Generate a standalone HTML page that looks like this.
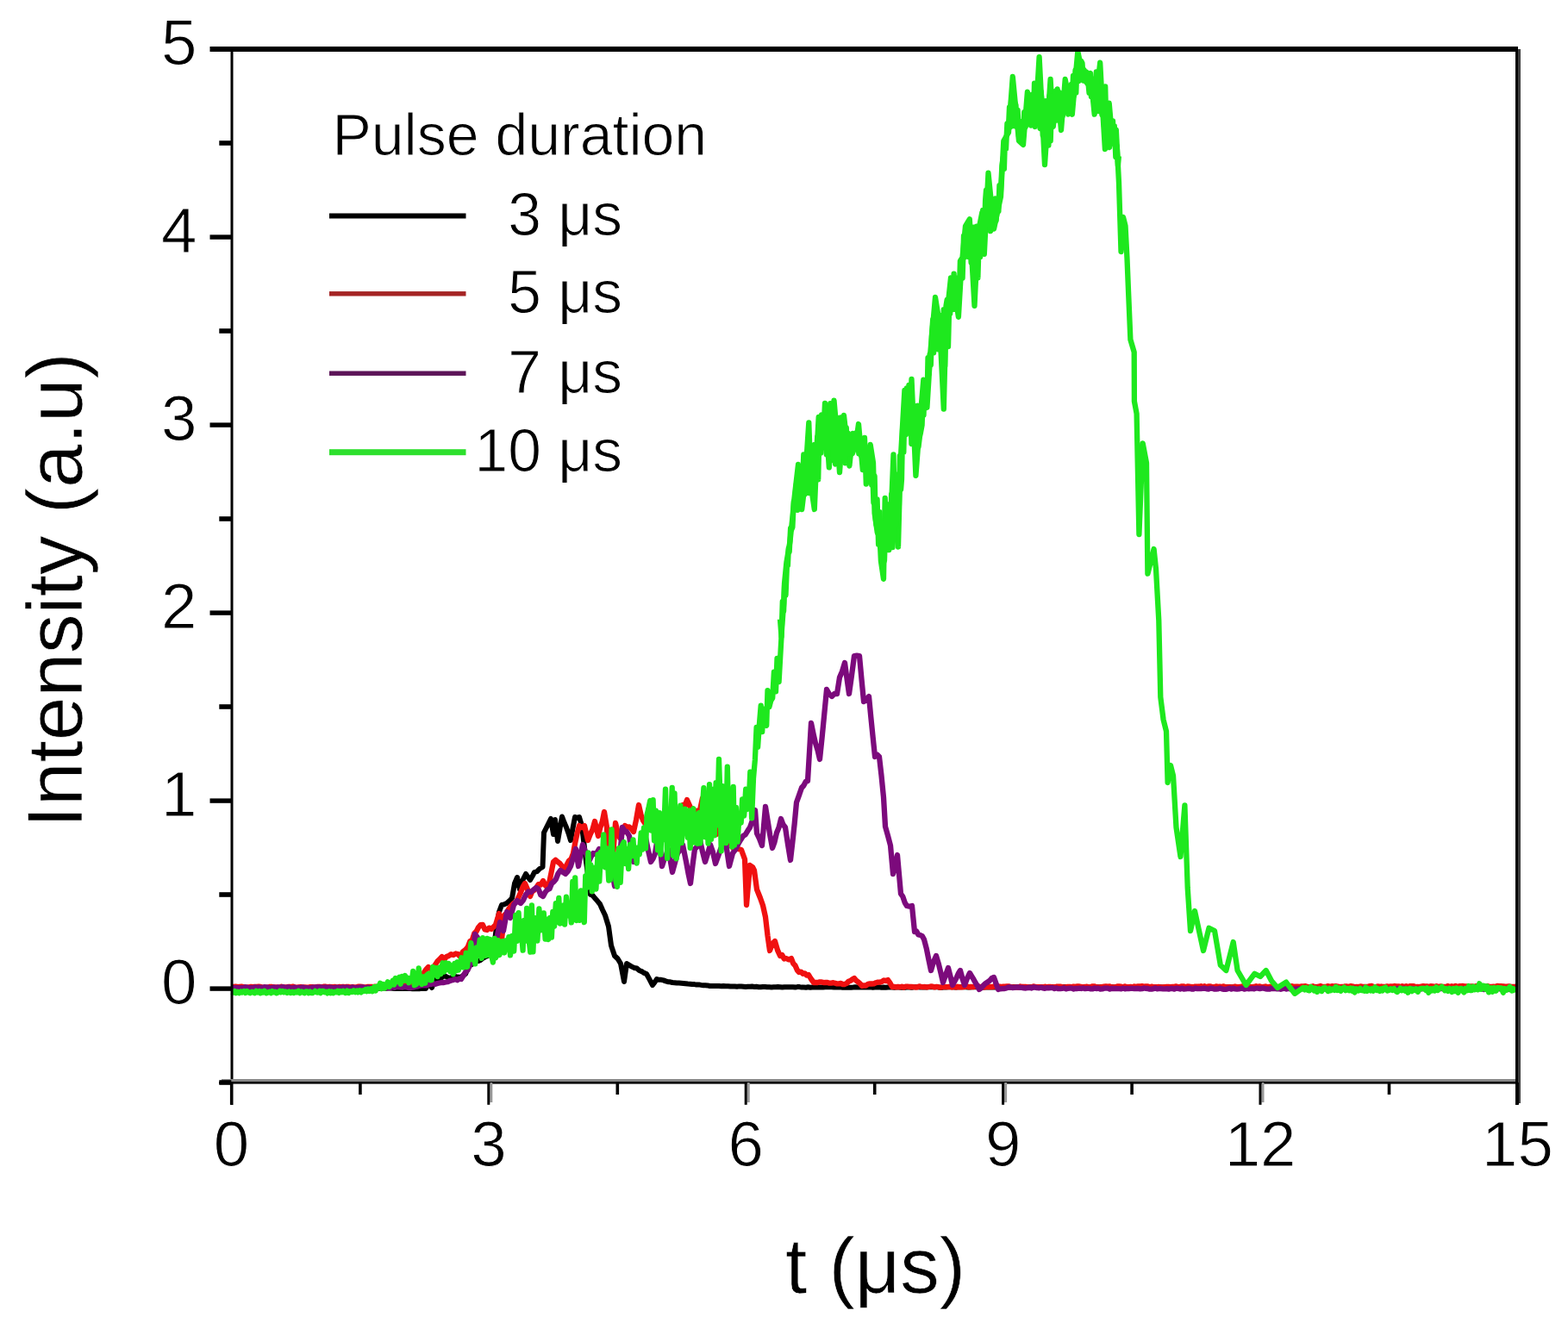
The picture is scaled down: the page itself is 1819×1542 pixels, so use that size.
<!DOCTYPE html>
<html><head><meta charset="utf-8"><title>Pulse duration</title>
<style>html,body{margin:0;padding:0;background:#fff;}svg{display:block;}.t1{stroke:#fff;stroke-width:1px;}.t2{stroke:#fff;stroke-width:0.6px;}</style>
</head><body><svg width="1819" height="1542" viewBox="0 0 1819 1542" font-family="'Liberation Sans', Arial, sans-serif" fill="#000"><polyline fill="none" stroke="#000000" stroke-width="6.0" stroke-linejoin="round" stroke-linecap="butt" points="269.0,1146.0 271.5,1145.9 274.0,1146.0 276.5,1145.9 279.1,1146.1 281.6,1146.1 284.1,1145.8 286.6,1145.8 289.1,1146.3 291.6,1145.9 294.1,1145.9 296.7,1146.4 299.2,1146.1 301.7,1146.3 304.2,1146.1 306.7,1146.2 309.2,1145.9 311.8,1146.2 314.3,1146.4 316.8,1146.2 319.3,1146.3 321.8,1146.3 324.3,1145.9 326.8,1146.3 329.4,1146.2 331.9,1146.1 334.4,1145.9 336.9,1146.4 339.4,1146.2 341.9,1146.3 344.4,1146.4 347.0,1146.4 349.5,1146.5 352.0,1146.2 354.5,1146.4 357.0,1146.2 359.5,1146.5 362.0,1146.5 364.6,1146.0 367.1,1146.1 369.6,1146.1 372.1,1146.6 374.6,1146.3 377.1,1146.4 379.6,1146.2 382.2,1146.3 384.7,1146.3 387.2,1146.3 389.7,1146.4 392.2,1146.4 394.7,1146.6 397.2,1146.5 399.8,1146.6 402.3,1146.6 404.8,1146.7 407.3,1146.5 409.8,1146.2 412.3,1146.6 414.9,1146.7 417.4,1146.7 419.9,1146.5 422.4,1146.6 424.9,1146.3 427.4,1146.7 429.9,1146.5 432.5,1146.3 435.0,1146.2 437.5,1146.7 440.0,1146.5 442.6,1146.8 445.2,1146.4 447.8,1146.8 450.4,1146.6 453.0,1146.5 455.6,1146.7 458.2,1147.0 460.8,1147.1 463.4,1146.7 466.0,1147.0 468.5,1147.1 471.1,1146.7 473.6,1147.1 476.2,1146.9 478.7,1147.2 481.3,1147.3 483.8,1147.0 486.4,1147.3 488.9,1146.9 491.5,1146.7 494.0,1147.0 497.0,1141.0 501.0,1146.0 505.0,1136.0 507.5,1136.6 510.0,1137.0 512.5,1134.0 515.0,1132.0 518.0,1133.2 521.0,1135.0 524.5,1133.9 528.0,1133.0 531.5,1133.6 535.0,1134.0 537.5,1131.6 540.0,1130.0 542.5,1124.1 545.0,1120.0 547.5,1118.9 550.0,1116.0 552.5,1114.6 555.0,1115.1 557.5,1114.0 560.0,1112.0 562.7,1110.4 565.3,1109.2 568.0,1108.0 570.5,1104.0 573.0,1100.0 576.0,1075.0 579.0,1058.0 582.0,1050.0 585.0,1049.3 588.0,1048.0 591.0,1045.2 594.0,1042.0 597.0,1025.0 600.0,1018.0 603.0,1032.0 606.0,1022.0 610.0,1014.0 612.5,1017.6 615.0,1021.0 617.5,1016.8 620.0,1012.0 623.0,1011.1 626.0,1008.0 629.5,1006.0 631.0,966.0 634.0,960.0 636.5,955.0 639.0,950.0 642.0,968.0 644.0,951.0 647.0,976.0 649.5,961.6 652.0,947.5 654.5,954.3 657.0,960.0 659.5,966.9 662.0,975.0 664.5,961.0 667.0,948.0 669.5,949.1 672.0,948.0 675.0,958.0 677.5,979.1 680.0,1000.0 682.5,1019.1 685.0,1038.0 687.5,1038.8 690.0,1042.0 693.0,1045.3 696.0,1049.0 699.0,1055.7 702.0,1062.0 706.0,1075.0 709.0,1097.0 713.0,1109.0 716.5,1112.3 720.0,1118.0 724.0,1139.0 727.0,1118.0 730.0,1119.9 733.0,1121.6 736.0,1123.0 738.8,1123.5 741.6,1126.0 744.4,1127.1 747.2,1128.9 750.0,1130.0 753.5,1136.4 757.0,1143.0 759.5,1139.6 762.0,1136.0 764.6,1136.8 767.1,1136.8 769.7,1137.4 772.3,1138.4 774.9,1139.2 777.4,1139.3 780.0,1140.0 782.6,1140.2 785.1,1140.5 787.7,1140.6 790.2,1140.8 792.8,1141.0 795.3,1141.3 797.9,1141.6 800.4,1141.7 803.0,1142.0 805.6,1142.1 808.1,1142.6 810.7,1142.4 813.2,1142.9 815.8,1143.3 818.3,1143.2 820.9,1143.4 823.4,1144.0 826.0,1144.0 828.7,1143.9 831.3,1143.9 834.0,1144.1 836.7,1144.3 839.3,1144.0 842.0,1144.2 844.7,1144.3 847.3,1144.6 850.0,1144.5 852.5,1144.5 855.0,1144.8 857.5,1144.4 860.0,1144.6 862.5,1144.8 865.0,1145.0 867.5,1144.8 870.0,1144.7 872.5,1144.6 875.0,1144.9 877.5,1144.8 880.0,1145.2 882.5,1145.2 885.0,1144.9 887.5,1145.0 890.0,1145.3 892.5,1145.3 895.0,1145.4 897.5,1145.2 900.0,1145.3 902.5,1145.1 905.0,1145.2 907.5,1145.5 910.0,1145.2 912.5,1145.2 915.0,1145.3 917.5,1145.3 920.0,1145.3 922.5,1145.6 925.0,1145.1 927.5,1145.1 930.0,1145.6 932.5,1145.6 935.0,1145.7 937.5,1145.3 940.0,1145.7 942.5,1145.6 945.0,1145.2 947.5,1145.5 950.0,1145.6 952.5,1145.5 955.0,1145.4 957.5,1145.3 960.0,1145.3 962.5,1145.3 965.0,1145.2 967.5,1145.5 970.0,1145.3 972.5,1145.6 975.0,1145.2 977.5,1145.7 980.0,1145.6 982.5,1145.7 985.0,1145.7 987.5,1145.7 990.0,1145.5 992.5,1145.2 995.0,1145.6 997.5,1145.3 1000.0,1145.5 1002.5,1145.4 1005.0,1145.6 1007.5,1145.5 1010.0,1145.4 1012.5,1145.8 1015.0,1145.6 1017.5,1145.4 1020.0,1145.3 1022.5,1145.7 1025.0,1145.5 1027.6,1145.7 1030.1,1145.4 1032.6,1145.3 1035.1,1145.5 1037.6,1145.7 1040.1,1145.3 1042.6,1145.6 1045.1,1145.7 1047.6,1145.7 1050.1,1145.7 1052.6,1145.2 1055.1,1145.5 1057.6,1145.7 1060.1,1145.2 1062.6,1145.3 1065.1,1145.3 1067.6,1145.5 1070.1,1145.4 1072.6,1145.4 1075.1,1145.6 1077.7,1145.1 1080.2,1145.2 1082.7,1145.2 1085.2,1145.2 1087.7,1145.2 1090.2,1145.7 1092.7,1145.7 1095.2,1145.2 1097.7,1145.4 1100.2,1145.3 1102.7,1145.3 1105.2,1145.3 1107.7,1145.5 1110.2,1145.5 1112.7,1145.3 1115.2,1145.2 1117.7,1145.3 1120.2,1145.2 1122.7,1145.5 1125.2,1145.5 1127.8,1145.3 1130.3,1145.2 1132.8,1145.2 1135.3,1145.3 1137.8,1145.5 1140.3,1145.6 1142.8,1145.3 1145.3,1145.6 1147.8,1145.5 1150.3,1145.4 1152.8,1145.3 1155.3,1145.4 1157.8,1145.5 1160.3,1145.3 1162.8,1145.5 1165.3,1145.4 1167.8,1145.2 1170.3,1145.4 1172.8,1145.5 1175.3,1145.1 1177.9,1145.3 1180.4,1145.3 1182.9,1145.6 1185.4,1145.6 1187.9,1145.3 1190.4,1145.6 1192.9,1145.5 1195.4,1145.2 1197.9,1145.3 1200.4,1145.1 1202.9,1145.6 1205.4,1145.5 1207.9,1145.6 1210.4,1145.5 1212.9,1145.5 1215.4,1145.5 1217.9,1145.4 1220.4,1145.1 1222.9,1145.4 1225.4,1145.1 1228.0,1145.1 1230.5,1145.5 1233.0,1145.1 1235.5,1145.1 1238.0,1145.1 1240.5,1145.6 1243.0,1145.1 1245.5,1145.1 1248.0,1145.5 1250.5,1145.1 1253.0,1145.5 1255.5,1145.4 1258.0,1145.5 1260.5,1145.6 1263.0,1145.4 1265.5,1145.5 1268.0,1145.0 1270.5,1145.5 1273.0,1145.3 1275.5,1145.4 1278.0,1145.1 1280.6,1145.5 1283.1,1145.6 1285.6,1145.0 1288.1,1145.2 1290.6,1145.3 1293.1,1145.5 1295.6,1145.2 1298.1,1145.1 1300.6,1145.2 1303.1,1145.4 1305.6,1145.5 1308.1,1145.2 1310.6,1145.2 1313.1,1145.2 1315.6,1145.2 1318.1,1145.2 1320.6,1145.0 1323.1,1145.3 1325.6,1145.6 1328.1,1145.2 1330.7,1145.4 1333.2,1145.1 1335.7,1145.4 1338.2,1145.4 1340.7,1145.4 1343.2,1145.3 1345.7,1145.3 1348.2,1145.4 1350.7,1145.5 1353.2,1145.1 1355.7,1145.0 1358.2,1145.4 1360.7,1145.5 1363.2,1145.3 1365.7,1145.2 1368.2,1145.4 1370.7,1145.1 1373.2,1145.1 1375.7,1145.1 1378.2,1145.3 1380.8,1145.1 1383.3,1145.1 1385.8,1145.4 1388.3,1145.5 1390.8,1145.1 1393.3,1145.4 1395.8,1145.2 1398.3,1145.4 1400.8,1145.3 1403.3,1145.1 1405.8,1145.1 1408.3,1144.9 1410.8,1145.2 1413.3,1145.2 1415.8,1145.0 1418.3,1145.1 1420.8,1145.1 1423.3,1145.4 1425.8,1145.0 1428.3,1145.5 1430.9,1145.2 1433.4,1145.3 1435.9,1145.2 1438.4,1145.4 1440.9,1145.4 1443.4,1145.2 1445.9,1145.2 1448.4,1145.3 1450.9,1145.4 1453.4,1145.1 1455.9,1145.3 1458.4,1145.5 1460.9,1145.2 1463.4,1145.0 1465.9,1145.0 1468.4,1145.3 1470.9,1145.3 1473.4,1145.5 1475.9,1145.4 1478.4,1145.0 1481.0,1145.0 1483.5,1145.0 1486.0,1145.0 1488.5,1145.3 1491.0,1145.4 1493.5,1145.4 1496.0,1145.0 1498.5,1145.4 1501.0,1145.1 1503.5,1145.1 1506.0,1145.3 1508.5,1144.9 1511.0,1144.9 1513.5,1145.4 1516.0,1145.0 1518.5,1145.1 1521.0,1145.2 1523.5,1145.3 1526.0,1144.9 1528.5,1145.1 1531.0,1145.1 1533.6,1145.1 1536.1,1145.0 1538.6,1145.2 1541.1,1145.4 1543.6,1145.1 1546.1,1145.2 1548.6,1144.9 1551.1,1145.0 1553.6,1145.2 1556.1,1144.9 1558.6,1145.4 1561.1,1145.4 1563.6,1144.9 1566.1,1145.4 1568.6,1145.0 1571.1,1145.3 1573.6,1145.3 1576.1,1145.0 1578.6,1145.2 1581.1,1145.2 1583.7,1145.3 1586.2,1145.0 1588.7,1145.3 1591.2,1145.4 1593.7,1145.2 1596.2,1145.1 1598.7,1144.9 1601.2,1145.1 1603.7,1145.0 1606.2,1145.2 1608.7,1145.2 1611.2,1145.1 1613.7,1144.9 1616.2,1145.2 1618.7,1145.2 1621.2,1144.9 1623.7,1145.3 1626.2,1145.2 1628.7,1144.9 1631.2,1145.3 1633.8,1144.9 1636.3,1145.0 1638.8,1145.2 1641.3,1145.1 1643.8,1145.1 1646.3,1145.2 1648.8,1145.0 1651.3,1145.0 1653.8,1144.9 1656.3,1144.8 1658.8,1145.2 1661.3,1145.2 1663.8,1145.1 1666.3,1145.2 1668.8,1145.0 1671.3,1144.9 1673.8,1145.0 1676.3,1145.3 1678.8,1144.8 1681.3,1145.1 1683.9,1144.9 1686.4,1145.2 1688.9,1145.0 1691.4,1144.9 1693.9,1145.0 1696.4,1145.1 1698.9,1145.2 1701.4,1144.9 1703.9,1145.2 1706.4,1144.8 1708.9,1144.9 1711.4,1144.8 1713.9,1144.8 1716.4,1145.2 1718.9,1145.2 1721.4,1144.8 1723.9,1144.8 1726.4,1145.0 1728.9,1145.2 1731.4,1145.2 1734.0,1145.2 1736.5,1145.1 1739.0,1144.8 1741.5,1145.0 1744.0,1144.8 1746.5,1145.0 1749.0,1145.0 1751.5,1144.8 1754.0,1144.9 1756.5,1145.2 1759.0,1145.0"/>
<polyline fill="none" stroke="#f01010" stroke-width="6.3" stroke-linejoin="round" stroke-linecap="butt" points="269.0,1145.2 271.2,1144.9 273.4,1144.7 275.7,1145.1 277.9,1144.8 280.1,1144.7 282.3,1145.1 284.5,1145.7 286.8,1145.6 289.0,1145.5 291.2,1144.9 293.4,1145.2 295.6,1144.9 297.9,1144.8 300.1,1144.7 302.3,1144.8 304.5,1145.7 306.8,1145.6 309.0,1145.6 311.2,1145.6 313.4,1144.8 315.6,1145.0 317.9,1145.4 320.1,1145.5 322.3,1145.6 324.5,1145.7 326.7,1144.7 329.0,1145.3 331.2,1145.4 333.4,1145.2 335.6,1144.8 337.8,1145.2 340.1,1144.7 342.3,1145.7 344.5,1145.7 346.7,1145.3 348.9,1145.0 351.2,1145.7 353.4,1145.3 355.6,1145.7 357.8,1145.6 360.1,1145.2 362.3,1145.1 364.5,1145.3 366.7,1145.1 368.9,1144.8 371.2,1145.0 373.4,1145.6 375.6,1144.6 377.8,1144.6 380.0,1145.4 382.3,1144.9 384.5,1145.2 386.7,1145.2 388.9,1145.0 391.1,1145.8 393.4,1144.8 395.6,1145.1 397.8,1144.8 400.0,1145.4 402.2,1144.9 404.5,1145.0 406.7,1145.5 408.9,1145.0 411.1,1145.3 413.4,1145.7 415.6,1144.7 417.8,1144.7 420.0,1144.9 422.2,1145.5 424.5,1145.3 426.7,1144.9 428.9,1145.0 431.1,1144.8 433.3,1145.1 435.6,1144.6 437.8,1145.4 440.0,1145.2 442.2,1145.6 444.4,1145.5 446.7,1145.1 448.9,1145.3 451.1,1144.0 453.3,1144.2 455.6,1144.9 457.8,1144.6 460.0,1144.0 462.2,1144.5 464.4,1144.0 466.7,1144.1 468.9,1143.4 471.1,1143.1 473.3,1143.3 475.6,1142.8 477.8,1143.0 480.0,1143.0 482.5,1141.1 485.0,1137.7 487.5,1134.5 490.0,1133.0 492.3,1127.9 494.7,1124.4 497.0,1122.0 499.5,1124.3 502.0,1124.0 504.7,1119.6 507.3,1115.6 510.0,1113.0 512.7,1110.0 515.3,1113.4 518.0,1110.0 520.7,1109.0 523.3,1107.2 526.0,1108.0 528.7,1106.5 531.3,1107.1 534.0,1110.0 537.0,1104.3 540.0,1102.0 542.7,1098.9 545.3,1092.2 548.0,1090.0 550.3,1083.0 552.7,1080.6 555.0,1076.0 557.5,1073.2 560.0,1073.0 562.5,1078.5 565.0,1079.0 567.5,1076.6 570.0,1078.0 572.5,1075.6 575.0,1073.0 579.0,1060.0 582.0,1090.0 585.0,1062.0 587.5,1059.9 590.0,1055.0 593.0,1051.0 596.0,1048.0 599.0,1046.4 602.0,1040.0 604.3,1034.9 606.7,1028.7 609.0,1025.0 612.0,1032.1 615.0,1040.0 617.3,1034.4 619.7,1032.9 622.0,1030.0 624.7,1026.1 627.3,1026.6 630.0,1022.0 633.0,1027.7 636.0,1030.0 639.0,1015.0 642.0,1000.0 644.5,997.7 647.0,1000.0 649.7,1002.1 652.3,1005.4 655.0,1010.0 657.5,1003.5 660.0,998.7 662.5,996.8 665.0,990.0 667.3,977.5 669.7,966.4 672.0,958.0 675.0,960.1 678.0,958.0 682.0,975.0 684.7,968.0 687.3,962.8 690.0,953.0 694.0,970.0 696.3,960.2 698.7,953.3 701.0,942.0 704.0,960.0 706.0,1000.0 709.0,1020.0 711.5,988.3 714.0,955.0 716.5,965.0 719.0,972.0 722.0,966.2 725.0,958.0 727.5,959.7 730.0,959.5 732.5,961.8 735.0,965.0 738.0,951.4 741.0,934.0 743.5,945.0 746.0,952.0 748.5,955.6 751.0,954.2 753.5,957.3 756.0,958.0 758.7,956.8 761.3,953.4 764.0,950.0 767.0,956.6 770.0,960.0 772.5,957.6 775.0,955.8 777.5,953.4 780.0,950.0 782.5,946.3 785.0,947.1 787.5,944.8 790.0,940.0 792.3,933.9 794.7,934.4 797.0,928.0 801.0,937.0 803.2,941.3 805.5,941.8 807.8,940.7 810.0,945.0 812.5,937.5 815.0,926.0 818.0,952.0 820.3,947.8 822.7,949.7 825.0,945.0 829.0,944.0 831.0,968.0 833.2,965.6 835.5,959.3 837.8,956.6 840.0,955.0 842.2,962.4 844.5,968.8 846.8,976.5 849.0,982.0 851.3,985.1 853.7,982.6 856.0,985.0 860.0,986.0 864.0,997.0 866.0,1050.0 870.0,1004.0 873.0,1006.0 875.0,1010.0 878.0,1032.0 882.0,1042.0 885.0,1050.5 888.0,1064.0 890.5,1085.6 893.0,1103.0 896.0,1095.1 899.0,1092.0 902.0,1102.4 905.0,1109.0 907.3,1108.1 909.7,1112.5 912.0,1112.0 915.0,1113.4 918.0,1112.0 920.2,1117.9 922.5,1120.3 924.8,1125.6 927.0,1128.0 929.2,1127.6 931.4,1129.8 933.6,1129.3 935.8,1131.6 938.0,1131.0 941.0,1136.0 944.0,1140.0 946.3,1140.0 948.6,1140.0 950.9,1139.4 953.1,1139.4 955.4,1140.1 957.7,1140.0 960.0,1140.0 962.2,1140.7 964.4,1140.6 966.7,1140.2 968.9,1140.7 971.1,1141.4 973.3,1141.4 975.6,1140.9 977.8,1142.2 980.0,1142.0 982.2,1141.0 984.4,1138.7 986.6,1137.9 988.8,1136.2 991.0,1135.0 993.2,1137.7 995.5,1139.3 997.8,1141.4 1000.0,1144.0 1002.3,1143.4 1004.6,1143.5 1006.9,1141.9 1009.2,1141.4 1011.5,1141.5 1013.8,1141.3 1016.2,1140.2 1018.5,1139.6 1020.8,1139.6 1023.1,1139.0 1025.4,1137.4 1027.7,1138.1 1030.0,1137.0 1032.5,1140.6 1035.0,1145.0 1037.2,1144.8 1039.5,1145.4 1041.7,1144.9 1044.0,1145.4 1046.2,1144.6 1048.4,1145.5 1050.7,1144.6 1052.9,1144.6 1055.2,1145.0 1057.4,1144.8 1059.7,1145.1 1061.9,1145.5 1064.1,1145.3 1066.4,1144.4 1068.6,1144.8 1070.9,1145.1 1073.1,1145.0 1075.3,1145.3 1077.6,1145.0 1079.8,1144.5 1082.1,1144.7 1084.3,1145.4 1086.6,1144.8 1088.8,1145.3 1091.0,1145.6 1093.3,1145.2 1095.5,1145.2 1097.8,1145.1 1100.0,1145.0 1102.2,1144.8 1104.4,1145.5 1106.6,1145.0 1108.8,1145.5 1111.0,1144.7 1113.2,1145.4 1115.4,1145.3 1117.6,1145.1 1119.8,1144.9 1122.0,1144.5 1124.2,1145.3 1126.4,1144.8 1128.7,1145.2 1130.9,1144.5 1133.1,1144.5 1135.3,1144.5 1137.5,1145.4 1139.7,1144.6 1141.9,1145.5 1144.1,1144.8 1146.3,1145.1 1148.5,1144.8 1150.7,1145.1 1152.9,1144.5 1155.1,1144.8 1157.3,1145.5 1159.5,1144.6 1161.7,1145.1 1163.9,1144.7 1166.1,1144.7 1168.3,1144.4 1170.5,1144.3 1172.7,1145.5 1174.9,1145.4 1177.1,1145.3 1179.3,1145.3 1181.5,1145.5 1183.8,1144.5 1186.0,1145.0 1188.2,1144.9 1190.4,1145.0 1192.6,1145.5 1194.8,1145.3 1197.0,1145.5 1199.2,1144.4 1201.4,1145.1 1203.6,1145.1 1205.8,1145.2 1208.0,1145.1 1210.2,1145.3 1212.4,1144.7 1214.6,1145.4 1216.8,1144.8 1219.0,1145.0 1221.2,1145.4 1223.4,1145.2 1225.6,1144.7 1227.8,1144.6 1230.0,1144.7 1232.2,1145.1 1234.4,1145.5 1236.6,1145.4 1238.9,1144.8 1241.1,1144.8 1243.3,1145.3 1245.5,1144.6 1247.7,1144.8 1249.9,1144.3 1252.1,1144.5 1254.3,1144.9 1256.5,1145.1 1258.7,1145.0 1260.9,1144.7 1263.1,1145.4 1265.3,1145.0 1267.5,1144.4 1269.7,1144.3 1271.9,1145.5 1274.1,1145.5 1276.3,1145.4 1278.5,1145.0 1280.7,1144.6 1282.9,1144.4 1285.1,1144.6 1287.3,1144.5 1289.5,1145.4 1291.7,1145.3 1294.0,1145.2 1296.2,1144.4 1298.4,1144.5 1300.6,1144.6 1302.8,1145.4 1305.0,1144.4 1307.2,1145.2 1309.4,1145.1 1311.6,1144.9 1313.8,1145.4 1316.0,1144.5 1318.2,1144.9 1320.4,1144.4 1322.6,1144.3 1324.8,1144.2 1327.0,1144.6 1329.2,1144.4 1331.4,1144.3 1333.6,1145.4 1335.8,1144.6 1338.0,1145.3 1340.2,1145.1 1342.4,1145.1 1344.6,1145.0 1346.8,1145.4 1349.1,1145.3 1351.3,1145.1 1353.5,1144.9 1355.7,1145.0 1357.9,1145.1 1360.1,1144.9 1362.3,1144.8 1364.5,1144.4 1366.7,1145.2 1368.9,1144.8 1371.1,1144.3 1373.3,1144.4 1375.5,1145.3 1377.7,1144.5 1379.9,1144.7 1382.1,1145.0 1384.3,1145.2 1386.5,1144.6 1388.7,1144.6 1390.9,1144.7 1393.1,1144.2 1395.3,1145.2 1397.5,1144.2 1399.7,1145.3 1401.9,1144.3 1404.2,1144.3 1406.4,1145.2 1408.6,1145.2 1410.8,1144.4 1413.0,1144.8 1415.2,1144.7 1417.4,1145.0 1419.6,1144.4 1421.8,1145.2 1424.0,1145.4 1426.2,1145.0 1428.4,1145.3 1430.6,1145.3 1432.8,1144.6 1435.0,1145.2 1437.2,1145.2 1439.4,1144.9 1441.6,1144.2 1443.8,1144.9 1446.0,1145.3 1448.2,1144.5 1450.4,1144.9 1452.6,1145.2 1454.8,1144.9 1457.1,1144.2 1459.3,1144.9 1461.5,1144.4 1463.7,1145.2 1465.9,1144.9 1468.1,1144.5 1470.3,1145.2 1472.5,1144.9 1474.7,1144.5 1476.9,1145.1 1479.1,1145.2 1481.3,1145.2 1483.5,1145.2 1485.7,1144.9 1487.9,1145.0 1490.1,1144.8 1492.3,1144.7 1494.5,1145.3 1496.7,1144.5 1498.9,1144.2 1501.1,1145.0 1503.3,1144.7 1505.5,1144.7 1507.7,1144.8 1509.9,1144.4 1512.2,1144.3 1514.4,1144.1 1516.6,1145.0 1518.8,1145.2 1521.0,1144.9 1523.2,1144.2 1525.4,1145.3 1527.6,1145.1 1529.8,1144.7 1532.0,1144.0 1534.2,1145.1 1536.4,1144.8 1538.6,1144.8 1540.8,1144.1 1543.0,1145.0 1545.2,1144.1 1547.4,1144.6 1549.6,1144.2 1551.8,1144.5 1554.0,1145.1 1556.2,1145.0 1558.4,1145.0 1560.6,1144.4 1562.8,1144.5 1565.0,1144.8 1567.3,1144.1 1569.5,1144.5 1571.7,1145.2 1573.9,1145.0 1576.1,1145.1 1578.3,1144.4 1580.5,1144.9 1582.7,1145.0 1584.9,1144.9 1587.1,1144.6 1589.3,1144.2 1591.5,1144.0 1593.7,1145.1 1595.9,1145.2 1598.1,1144.3 1600.3,1144.9 1602.5,1144.5 1604.7,1144.8 1606.9,1145.0 1609.1,1144.4 1611.3,1144.8 1613.5,1144.3 1615.7,1144.6 1617.9,1144.0 1620.1,1144.3 1622.4,1144.3 1624.6,1145.1 1626.8,1144.1 1629.0,1144.9 1631.2,1144.1 1633.4,1145.2 1635.6,1144.2 1637.8,1144.1 1640.0,1144.2 1642.2,1145.1 1644.4,1144.8 1646.6,1145.1 1648.8,1144.6 1651.0,1144.1 1653.2,1144.4 1655.4,1144.5 1657.6,1145.2 1659.8,1144.2 1662.0,1144.3 1664.2,1145.0 1666.4,1144.1 1668.6,1145.2 1670.8,1144.3 1673.0,1144.6 1675.2,1144.8 1677.5,1145.1 1679.7,1144.0 1681.9,1145.0 1684.1,1144.2 1686.3,1144.8 1688.5,1144.0 1690.7,1144.9 1692.9,1144.2 1695.1,1144.2 1697.3,1144.0 1699.5,1144.3 1701.7,1144.3 1703.9,1145.1 1706.1,1144.7 1708.3,1144.4 1710.5,1145.1 1712.7,1144.1 1714.9,1144.2 1717.1,1145.1 1719.3,1145.1 1721.5,1144.8 1723.7,1145.1 1725.9,1144.0 1728.1,1145.0 1730.3,1144.8 1732.6,1144.7 1734.8,1144.9 1737.0,1144.0 1739.2,1144.1 1741.4,1144.1 1743.6,1144.5 1745.8,1144.6 1748.0,1144.6 1750.2,1144.3 1752.4,1144.8 1754.6,1144.9 1756.8,1144.8 1759.0,1144.5"/>
<polyline fill="none" stroke="#7c0a7c" stroke-width="6.3" stroke-linejoin="round" stroke-linecap="butt" points="269.0,1145.8 271.2,1146.0 273.4,1146.1 275.7,1146.2 277.9,1146.4 280.1,1146.1 282.3,1146.3 284.5,1145.2 286.8,1145.8 289.0,1146.4 291.2,1146.0 293.4,1146.3 295.6,1145.3 297.9,1145.8 300.1,1145.5 302.3,1145.9 304.5,1145.9 306.8,1145.2 309.0,1145.5 311.2,1145.6 313.4,1146.4 315.6,1146.2 317.9,1145.4 320.1,1146.2 322.3,1145.4 324.5,1146.0 326.7,1145.4 329.0,1145.2 331.2,1146.3 333.4,1145.5 335.6,1145.5 337.8,1146.5 340.1,1146.3 342.3,1145.6 344.5,1146.5 346.7,1145.9 348.9,1146.1 351.2,1145.5 353.4,1146.4 355.6,1146.1 357.8,1146.5 360.1,1146.4 362.3,1145.7 364.5,1145.7 366.7,1145.5 368.9,1145.5 371.2,1145.4 373.4,1145.7 375.6,1146.1 377.8,1145.3 380.0,1146.2 382.3,1145.7 384.5,1145.7 386.7,1146.3 388.9,1145.9 391.1,1145.7 393.4,1145.9 395.6,1146.2 397.8,1145.4 400.0,1146.5 402.2,1145.4 404.5,1146.3 406.7,1146.4 408.9,1145.4 411.1,1146.3 413.4,1145.8 415.6,1146.1 417.8,1145.4 420.0,1145.4 422.2,1145.6 424.5,1146.6 426.7,1145.6 428.9,1146.3 431.1,1146.5 433.3,1146.5 435.6,1145.8 437.8,1145.8 440.0,1146.0 442.2,1146.0 444.4,1146.2 446.6,1145.3 448.9,1146.0 451.1,1146.0 453.3,1146.0 455.5,1144.9 457.7,1146.0 459.9,1144.8 462.1,1145.1 464.4,1145.4 466.6,1145.7 468.8,1144.9 471.0,1145.0 474.0,1146.0 477.0,1146.0 479.3,1145.7 481.6,1145.0 483.9,1144.6 486.2,1144.0 488.5,1143.5 490.8,1143.2 493.1,1143.4 495.4,1143.4 497.7,1142.0 500.0,1142.0 502.5,1141.1 505.0,1141.9 507.5,1141.0 510.0,1140.5 512.5,1140.0 515.0,1140.0 517.2,1139.5 519.4,1139.2 521.6,1138.1 523.8,1137.5 526.0,1137.0 528.2,1136.0 530.5,1137.2 532.8,1135.4 535.0,1136.0 537.5,1132.0 540.0,1128.0 542.5,1125.5 545.0,1120.0 549.0,1112.0 551.0,1084.0 554.0,1088.0 558.0,1100.0 560.3,1099.8 562.7,1104.5 565.0,1105.0 567.3,1105.6 569.7,1102.3 572.0,1100.0 576.0,1090.0 580.0,1070.0 584.0,1080.0 588.0,1058.0 592.0,1065.0 596.0,1050.0 600.0,1045.0 604.0,1048.0 607.0,1044.4 610.0,1038.0 613.0,1034.5 616.0,1035.0 619.0,1032.2 622.0,1030.0 624.7,1031.6 627.3,1038.4 630.0,1040.0 632.5,1035.2 635.0,1032.3 637.5,1031.2 640.0,1025.0 642.5,1023.0 645.0,1019.9 647.5,1013.5 650.0,1010.0 653.0,1011.9 656.0,1014.0 659.0,1010.6 662.0,1005.0 665.0,994.9 668.0,985.0 671.0,1005.0 673.5,991.5 676.0,980.0 678.3,986.2 680.7,991.6 683.0,1000.0 685.5,994.4 688.0,990.0 690.3,990.8 692.7,989.0 695.0,985.0 697.3,989.0 699.7,991.7 702.0,995.0 705.0,996.7 708.0,1000.0 710.5,1011.9 713.0,1028.0 717.0,1020.0 719.5,988.9 722.0,960.0 724.5,963.9 727.0,965.0 730.0,970.0 732.5,986.8 735.0,1000.0 737.3,994.3 739.7,991.4 742.0,985.0 744.3,982.0 746.7,977.3 749.0,972.0 752.0,986.8 755.0,1000.0 757.5,996.3 760.0,990.0 764.0,965.0 768.0,1005.0 770.3,997.7 772.7,992.7 775.0,985.0 777.5,997.4 780.0,1012.0 783.0,1000.9 786.0,990.0 789.0,986.3 792.0,980.0 796.0,1000.0 798.5,1013.5 801.0,1025.0 803.5,1004.0 806.0,985.0 809.0,982.2 812.0,975.0 815.0,988.2 818.0,1000.0 821.0,990.4 824.0,980.0 827.0,988.6 830.0,1002.0 833.0,993.7 836.0,985.0 839.0,980.3 842.0,978.0 846.0,1005.0 850.0,990.0 853.0,985.9 856.0,980.0 859.0,974.8 862.0,970.0 864.7,968.3 867.3,964.1 870.0,960.0 873.0,951.5 876.0,940.0 878.0,967.0 881.0,973.2 884.0,981.0 888.0,936.0 890.7,952.7 893.3,969.2 896.0,984.0 898.5,977.1 901.0,966.3 903.5,960.2 906.0,950.0 908.5,956.8 911.0,960.0 914.0,979.9 917.0,998.0 919.3,978.0 921.7,955.6 924.0,931.0 927.0,922.6 930.0,914.0 932.3,911.5 934.7,907.0 937.0,906.0 941.0,839.0 943.5,851.2 946.0,862.2 948.5,870.4 951.0,881.0 953.7,855.0 956.3,828.1 959.0,800.0 962.0,805.2 965.0,808.0 968.0,804.9 971.0,805.0 974.0,786.0 977.0,778.9 980.0,769.0 982.5,787.4 985.0,805.0 988.0,783.8 991.0,761.0 994.0,760.6 997.0,761.0 999.5,788.1 1002.0,814.0 1005.0,812.4 1008.0,808.0 1010.3,832.0 1012.7,855.8 1015.0,878.0 1017.5,875.6 1020.0,878.0 1022.5,899.8 1025.0,925.0 1027.0,959.0 1030.0,969.7 1033.0,981.0 1036.0,1014.0 1038.5,1003.8 1041.0,992.0 1045.0,1037.0 1047.3,1040.3 1049.7,1047.3 1052.0,1051.0 1055.0,1051.7 1058.0,1051.0 1061.0,1081.0 1063.2,1080.5 1065.4,1084.5 1067.6,1085.0 1069.8,1086.0 1072.0,1090.0 1074.7,1100.2 1077.3,1113.1 1080.0,1126.0 1083.0,1115.9 1086.0,1109.0 1088.7,1117.8 1091.3,1128.2 1094.0,1140.0 1097.0,1131.4 1100.0,1123.0 1102.5,1132.7 1105.0,1143.0 1107.2,1138.9 1109.5,1134.7 1111.8,1129.5 1114.0,1126.0 1116.5,1135.4 1119.0,1143.0 1122.0,1135.1 1125.0,1129.0 1127.2,1132.6 1129.4,1136.2 1131.6,1140.3 1133.8,1143.7 1136.0,1148.0 1138.2,1146.4 1140.5,1143.8 1142.8,1141.4 1145.0,1140.0 1147.7,1138.2 1150.3,1135.2 1153.0,1134.0 1155.5,1141.1 1158.0,1148.0 1160.4,1147.3 1162.8,1147.1 1165.2,1147.1 1167.6,1146.4 1170.0,1145.5 1172.2,1145.4 1174.4,1146.0 1176.7,1145.8 1178.9,1145.5 1181.1,1145.3 1183.3,1145.9 1185.6,1145.9 1187.8,1146.4 1190.0,1146.5 1192.2,1146.1 1194.4,1145.8 1196.7,1146.5 1198.9,1145.4 1201.1,1145.6 1203.3,1146.2 1205.6,1146.3 1207.8,1145.8 1210.0,1146.4 1212.2,1146.8 1214.4,1146.2 1216.7,1146.3 1218.9,1146.1 1221.1,1146.2 1223.3,1147.1 1225.6,1146.4 1227.8,1147.2 1230.0,1147.1 1232.2,1146.8 1234.4,1146.4 1236.7,1147.4 1238.9,1146.8 1241.1,1146.7 1243.3,1146.6 1245.6,1147.5 1247.8,1146.9 1250.0,1147.0 1252.2,1146.7 1254.4,1147.0 1256.6,1146.5 1258.8,1147.2 1261.0,1146.9 1263.2,1146.8 1265.4,1147.4 1267.6,1147.4 1269.8,1146.4 1272.0,1147.1 1274.2,1146.7 1276.4,1147.6 1278.6,1147.4 1280.8,1146.7 1283.1,1146.7 1285.3,1146.6 1287.5,1147.6 1289.7,1146.8 1291.9,1147.2 1294.1,1147.0 1296.3,1147.2 1298.5,1147.2 1300.7,1147.4 1302.9,1146.6 1305.1,1147.4 1307.3,1146.8 1309.5,1147.1 1311.7,1146.9 1313.9,1146.8 1316.1,1147.1 1318.3,1147.0 1320.5,1146.9 1322.7,1147.4 1324.9,1147.2 1327.1,1146.5 1329.3,1146.8 1331.5,1147.0 1333.7,1147.6 1335.9,1147.6 1338.1,1147.1 1340.3,1146.5 1342.5,1147.4 1344.7,1147.0 1347.0,1147.2 1349.2,1147.4 1351.4,1147.3 1353.6,1147.1 1355.8,1147.6 1358.0,1147.0 1360.2,1147.0 1362.4,1147.6 1364.6,1146.7 1366.8,1146.9 1369.0,1147.5 1371.2,1146.6 1373.4,1147.5 1375.6,1147.4 1377.8,1147.0 1380.0,1146.9 1382.2,1147.5 1384.4,1147.6 1386.6,1146.7 1388.8,1147.1 1391.0,1147.2 1393.2,1147.1 1395.4,1146.9 1397.6,1146.7 1399.8,1147.3 1402.0,1147.5 1404.2,1146.6 1406.4,1146.8 1408.6,1147.6 1410.9,1147.5 1413.1,1147.4 1415.3,1146.6 1417.5,1147.4 1419.7,1147.8 1421.9,1147.8 1424.1,1147.4 1426.3,1146.6 1428.5,1147.6 1430.7,1146.8 1432.9,1147.4 1435.1,1147.7 1437.3,1147.4 1439.5,1146.7 1441.7,1146.9 1443.9,1147.7 1446.1,1146.8 1448.3,1147.3 1450.5,1147.1 1452.7,1146.8 1454.9,1147.4 1457.1,1146.6 1459.3,1146.7 1461.5,1147.1 1463.7,1146.7 1465.9,1146.7 1468.1,1147.3 1470.3,1147.5 1472.5,1147.7 1474.8,1146.8 1477.0,1147.1 1479.2,1147.0 1481.4,1147.4 1483.6,1147.2 1485.8,1147.8 1488.0,1147.1 1490.2,1146.7 1492.4,1147.5 1494.6,1146.8 1496.8,1147.4 1499.0,1147.3 1501.2,1147.8 1503.4,1147.3 1505.6,1147.4 1507.8,1147.0 1510.0,1147.3 1512.2,1147.0 1514.4,1147.6 1516.6,1147.3 1518.8,1146.8 1521.0,1146.9 1523.2,1147.1 1525.4,1147.6 1527.6,1146.9 1529.8,1147.5 1532.0,1147.5 1534.2,1146.8 1536.5,1147.5 1538.7,1146.8 1540.9,1146.8 1543.1,1147.4 1545.3,1147.0 1547.5,1147.8 1549.7,1147.3 1551.9,1147.1 1554.1,1147.7 1556.3,1146.7 1558.5,1147.6 1560.7,1146.7 1562.9,1146.9 1565.1,1147.9 1567.3,1147.5 1569.5,1147.0 1571.7,1146.8 1573.9,1147.9 1576.1,1147.5 1578.3,1147.7 1580.5,1146.9 1582.7,1147.5 1584.9,1147.1 1587.1,1147.0 1589.3,1147.1 1591.5,1147.5 1593.7,1147.1 1595.9,1147.2 1598.1,1146.9 1600.4,1147.8 1602.6,1147.5 1604.8,1147.7 1607.0,1147.3 1609.2,1147.8 1611.4,1147.4 1613.6,1147.5 1615.8,1147.5 1618.0,1147.7 1620.2,1147.2 1622.4,1146.9 1624.6,1146.8 1626.8,1147.0 1629.0,1146.8 1631.2,1147.9 1633.4,1147.4 1635.6,1147.7 1637.8,1146.8 1640.0,1147.3 1642.2,1147.9 1644.4,1147.5 1646.6,1147.3 1648.8,1147.3 1651.0,1146.9 1653.2,1147.0 1655.4,1147.0 1657.6,1147.2 1659.8,1147.3 1662.0,1147.9 1664.3,1147.0 1666.5,1147.1 1668.7,1147.1 1670.9,1147.0 1673.1,1147.1 1675.3,1147.1 1677.5,1147.4 1679.7,1146.8 1681.9,1148.0 1684.1,1147.3 1686.3,1148.0 1688.5,1147.7 1690.7,1147.7 1692.9,1147.4 1695.1,1148.0 1697.3,1147.0 1699.5,1147.7 1701.7,1147.2 1703.9,1147.7 1706.1,1147.7 1708.3,1147.0 1710.5,1147.1 1712.7,1146.9 1714.9,1147.1 1717.1,1146.9 1719.3,1147.3 1721.5,1148.1 1723.7,1147.3 1725.9,1147.2 1728.2,1147.4 1730.4,1147.2 1732.6,1147.8 1734.8,1147.7 1737.0,1147.1 1739.2,1147.2 1741.4,1147.7 1743.6,1148.0 1745.8,1147.7 1748.0,1147.4 1750.2,1148.1 1752.4,1146.9 1754.6,1146.9 1756.8,1147.8 1759.0,1147.5"/>
<polyline fill="none" stroke="#1ee81e" stroke-width="6.3" stroke-linejoin="round" stroke-linecap="butt" points="269.0,1150.7 270.5,1151.6 272.2,1150.1 273.7,1152.2 275.7,1150.8 277.5,1152.2 279.4,1150.5 281.0,1151.6 283.0,1150.1 284.8,1152.0 286.6,1150.0 288.3,1151.4 290.1,1152.3 292.2,1150.7 293.9,1151.5 295.3,1152.2 297.1,1149.9 298.8,1151.4 300.8,1150.1 302.1,1152.3 303.9,1150.6 305.4,1151.5 306.8,1149.8 308.9,1152.3 310.8,1151.5 312.8,1150.6 314.4,1152.1 315.9,1150.0 317.8,1151.3 319.2,1150.7 320.7,1152.3 322.8,1151.4 324.5,1149.9 325.9,1151.4 327.8,1149.9 329.4,1151.4 331.1,1150.5 333.1,1152.0 335.2,1150.6 337.0,1152.1 339.0,1150.7 341.1,1152.1 342.8,1150.8 344.3,1151.5 346.1,1149.9 348.0,1152.1 350.0,1150.5 351.4,1151.3 353.2,1152.3 354.9,1150.5 356.3,1150.4 357.9,1152.1 359.6,1150.5 361.1,1152.1 362.5,1152.1 364.1,1151.3 365.5,1149.9 367.4,1151.4 368.7,1151.6 370.6,1149.9 372.0,1152.1 373.7,1150.0 375.2,1150.0 376.7,1151.3 378.4,1150.7 379.9,1152.3 381.7,1150.4 383.5,1152.2 384.9,1150.6 386.6,1152.3 388.6,1150.7 390.3,1151.3 391.7,1149.8 393.3,1152.0 394.7,1150.0 396.5,1151.3 398.1,1149.8 399.5,1151.5 400.8,1152.1 402.7,1149.6 404.6,1152.0 406.5,1150.3 408.4,1151.0 410.2,1149.3 412.2,1151.1 414.1,1149.5 415.4,1151.3 417.3,1149.3 418.9,1151.3 420.9,1149.4 422.1,1150.0 424.1,1148.0 425.6,1150.2 427.1,1147.5 428.8,1150.0 430.3,1147.2 432.2,1150.2 434.3,1145.0 435.7,1149.5 437.7,1144.6 439.1,1146.5 441.0,1140.8 442.6,1147.3 444.4,1142.1 446.3,1146.5 448.2,1142.8 449.8,1139.3 451.8,1144.9 453.6,1142.1 455.6,1137.8 457.2,1142.5 458.7,1135.0 460.6,1139.2 461.9,1136.0 463.3,1133.7 464.7,1141.7 466.2,1132.9 468.1,1137.8 469.9,1132.1 471.5,1137.9 473.0,1134.6 474.3,1140.3 476.0,1135.1 477.8,1137.6 479.2,1126.8 480.8,1143.1 482.9,1142.2 484.5,1138.2 485.8,1123.5 487.2,1138.0 489.3,1142.0 491.3,1133.2 493.2,1140.8 495.1,1131.5 497.2,1129.8 499.2,1137.3 500.7,1137.1 502.1,1121.9 504.2,1131.3 505.7,1123.2 507.6,1133.1 509.7,1122.5 511.4,1130.1 513.5,1117.3 515.3,1127.6 517.0,1117.1 518.7,1125.1 520.7,1118.0 522.3,1127.3 523.6,1120.4 525.7,1130.4 527.4,1117.8 529.0,1126.5 530.5,1116.3 531.9,1125.6 533.5,1118.8 535.4,1111.3 537.5,1122.5 539.3,1121.1 540.7,1105.7 542.0,1121.9 543.5,1107.8 544.8,1111.8 546.4,1094.2 548.1,1113.4 549.8,1101.0 551.3,1118.4 552.8,1099.4 554.6,1108.6 556.7,1090.4 558.8,1111.9 560.1,1088.1 561.6,1099.0 563.1,1108.9 565.2,1089.0 566.7,1108.2 568.4,1089.9 570.2,1108.7 571.9,1116.6 573.7,1088.8 575.0,1111.4 576.7,1107.1 578.1,1091.2 579.5,1108.1 581.3,1097.4 583.1,1092.3 585.1,1105.5 586.4,1091.3 588.3,1101.6 590.3,1087.2 592.0,1108.4 594.1,1085.8 596.2,1103.6 598.2,1062.0 599.8,1091.9 601.6,1059.2 602.9,1087.4 605.0,1083.6 606.6,1102.7 607.9,1067.9 609.8,1091.6 611.1,1054.0 613.2,1086.1 615.2,1104.7 616.9,1050.3 618.4,1104.4 619.9,1064.8 621.7,1080.6 623.4,1091.6 625.4,1054.4 627.4,1079.3 629.3,1077.2 630.8,1059.4 632.6,1089.6 634.3,1066.6 636.2,1090.0 638.0,1064.9 639.9,1087.5 641.3,1058.0 643.1,1074.9 644.8,1048.2 646.2,1069.8 648.3,1041.8 649.8,1071.7 651.6,1062.4 653.6,1050.4 655.1,1072.6 656.9,1040.7 658.8,1062.3 660.8,1050.2 662.8,1070.4 664.3,1023.0 665.8,1050.1 667.2,1018.3 668.5,1068.0 670.1,1036.1 672.2,1067.8 673.9,1033.3 675.8,1055.6 677.8,1070.2 679.2,1016.5 681.0,1030.1 682.4,989.4 683.8,1018.2 685.3,1003.5 686.8,1034.3 688.2,1006.6 689.8,1023.1 691.4,1031.6 693.5,991.3 695.3,1022.6 696.9,988.6 698.4,1003.0 700.2,968.3 702.1,1006.4 704.1,984.3 706.2,1021.5 707.9,1020.8 709.5,962.5 710.8,1002.5 712.8,991.2 714.5,1022.1 716.0,1028.9 717.9,984.2 719.7,1023.8 721.8,980.9 723.8,977.0 725.7,1002.0 727.3,985.3 729.1,1008.1 731.0,979.8 733.1,993.3 734.5,974.3 735.7,993.1 737.1,983.5 738.7,1001.5 740.0,983.5 741.8,991.5 743.7,966.3 745.0,985.7 747.0,960.3 749.0,984.4 750.5,945.6 752.3,938.3 754.2,929.0 755.6,963.6 757.6,928.1 759.0,975.5 761.1,940.7 763.0,986.4 765.0,943.2 766.4,991.5 767.9,952.4 769.9,974.1 772.0,915.7 774.1,995.8 776.0,941.6 777.6,969.1 779.7,913.9 781.1,992.6 782.5,920.3 784.6,996.3 786.4,980.4 788.0,978.1 789.3,934.7 790.7,977.9 792.6,954.6 794.7,938.6 796.5,951.2 797.9,971.9 799.3,940.5 800.7,983.8 802.4,949.9 804.3,938.2 805.7,977.6 807.5,945.3 809.2,978.8 810.9,943.2 812.4,978.4 814.4,943.5 816.4,914.2 818.4,971.4 820.0,925.7 821.5,978.7 823.0,910.2 825.0,973.8 826.7,915.8 828.8,969.4 830.6,908.1 832.0,957.3 834.0,880.8 835.4,922.3 836.7,987.4 838.2,912.2 840.1,959.9 842.1,978.2 843.8,889.6 845.8,975.3 847.3,917.1 849.2,982.7 850.7,912.9 852.0,980.7 853.9,936.9 855.6,976.7 857.6,944.8 859.7,954.6 861.1,927.3 863.2,946.6 865.2,915.7 866.5,939.1 868.4,938.0 870.3,895.6 872.1,949.3 874.0,903.0 875.9,881.2 877.6,844.0 879.1,866.7 880.9,840.4 882.7,818.6 884.2,849.0 886.0,822.6 887.4,839.5 889.2,841.8 890.5,801.1 892.4,820.3 894.2,813.2 896.2,809.8 897.9,779.7 900.0,802.3 901.5,764.0 903.6,791.1 907.0,730.0 909.2,700.0 910.0,677.0 912.4,652.6 916.5,628.0 919.0,604.0 921.3,579.7 926.0,539.0 930.2,591.0 933.5,563.5 938.3,490.5 940.8,563.5 944.8,591.0 948.0,515.0 949.7,484.0 954.6,519.7 957.0,467.8 961.8,542.4 967.5,464.6 970.8,502.0 974.0,548.0 979.0,482.0 985.4,540.5 989.4,503.0 992.0,521.0 996.0,492.0 1000.8,545.0 1003.0,508.0 1004.8,561.6 1009.7,516.0 1013.0,537.0 1014.6,595.6 1017.8,618.0 1019.5,600.0 1021.9,650.7 1025.0,671.8 1026.7,577.8 1028.5,634.5 1032.4,626.4 1036.5,527.5 1038.0,605.3 1040.0,590.0 1042.0,634.5 1044.6,535.6 1049.4,453.0 1054.3,501.6 1057.5,440.0 1062.4,551.8 1067.2,488.6 1071.3,440.7 1075.4,473.0 1079.4,408.0 1085.0,345.0 1090.0,376.0 1094.8,474.7 1097.3,376.0 1103.0,322.4 1107.0,333.7 1111.9,367.8 1115.0,314.3 1120.0,262.4 1124.8,254.3 1130.5,354.8 1134.6,270.5 1139.4,246.2 1141.8,294.8 1146.5,200.7 1153.0,265.6 1161.0,228.0 1164.3,163.5 1170.0,153.7 1174.8,89.0 1182.0,163.5 1187.0,168.0 1191.9,106.7 1200.8,147.0 1205.6,66.2 1212.0,191.0 1218.6,92.0 1221.8,147.0 1226.7,103.5 1231.0,151.0 1235.7,92.0 1243.8,132.7 1250.3,59.7 1256.7,90.5 1261.6,97.0 1265.0,85.0 1269.7,132.7 1276.2,72.7 1278.6,118.0 1281.9,173.0 1286.7,119.7 1290.8,166.7 1294.8,150.5 1298.0,212.0 1300.5,292.0 1303.0,252.0 1305.5,262.0 1307.5,300.0 1309.0,337.0 1311.4,394.0 1315.7,408.6 1315.9,465.7 1318.6,480.0 1321.4,620.0 1325.7,514.3 1330.0,537.0 1331.4,665.7 1338.6,637.0 1341.0,660.0 1344.3,720.0 1346.3,808.8 1349.6,835.0 1353.0,848.5 1354.6,908.0 1358.0,888.0 1361.0,900.0 1364.5,960.0 1369.5,994.0 1374.4,934.5 1377.7,1030.0 1381.0,1080.0 1386.0,1057.0 1396.0,1103.0 1402.5,1076.7 1409.0,1080.0 1415.8,1119.7 1422.4,1126.0 1430.7,1093.0 1435.6,1126.0 1445.5,1143.0 1455.5,1129.7 1462.0,1133.0 1468.7,1126.0 1475.0,1138.0 1482.0,1146.0 1492.0,1139.6 1502.0,1152.8 1511.7,1146.0 1513.5,1148.3 1515.3,1146.1 1517.5,1149.0 1519.0,1149.4 1520.7,1144.9 1522.5,1146.3 1524.6,1149.5 1526.0,1146.5 1528.0,1150.8 1530.2,1147.2 1531.6,1148.9 1533.3,1150.0 1534.8,1146.7 1536.9,1145.7 1538.4,1147.2 1540.6,1150.0 1542.4,1146.9 1543.9,1149.2 1545.9,1147.4 1548.1,1149.0 1549.7,1144.9 1551.7,1149.0 1553.9,1146.5 1555.4,1149.8 1557.5,1146.9 1559.4,1145.6 1561.1,1149.2 1563.3,1147.1 1565.2,1149.1 1566.8,1146.6 1568.4,1149.6 1569.8,1146.9 1571.5,1151.5 1573.5,1147.3 1575.8,1149.4 1577.9,1146.8 1579.4,1149.2 1580.8,1149.1 1583.0,1149.7 1584.3,1145.5 1586.0,1149.9 1587.6,1147.2 1589.8,1149.3 1591.2,1147.4 1593.1,1149.6 1595.2,1145.4 1597.3,1149.0 1598.7,1147.4 1600.6,1149.9 1602.2,1147.4 1603.9,1149.4 1605.4,1146.4 1607.3,1145.6 1609.4,1149.6 1611.2,1149.0 1613.2,1147.2 1615.2,1149.0 1617.2,1147.0 1619.1,1149.7 1620.8,1151.0 1622.7,1149.0 1624.6,1146.7 1626.3,1149.1 1628.2,1147.5 1629.9,1149.6 1631.2,1147.2 1633.3,1151.7 1634.8,1147.0 1636.2,1146.8 1638.0,1150.1 1639.4,1147.5 1641.4,1149.0 1642.7,1147.3 1644.9,1150.8 1646.8,1147.3 1648.7,1146.9 1650.5,1147.0 1652.1,1146.8 1654.1,1149.0 1655.6,1146.4 1657.3,1151.7 1659.5,1147.2 1661.1,1149.5 1662.8,1147.1 1664.3,1149.5 1666.2,1145.3 1667.8,1149.0 1669.5,1147.3 1671.1,1146.4 1672.6,1144.8 1674.6,1146.7 1676.2,1149.3 1677.5,1147.0 1679.7,1149.9 1681.5,1146.7 1683.1,1149.0 1684.4,1150.9 1686.1,1147.0 1688.1,1150.0 1689.8,1146.5 1691.6,1151.7 1693.3,1147.4 1695.2,1146.9 1696.5,1148.9 1698.3,1151.4 1699.9,1147.0 1701.9,1149.1 1703.9,1144.1 1705.5,1149.0 1707.3,1149.0 1709.1,1144.7 1710.6,1148.3 1712.7,1145.2 1714.5,1148.3 1716.2,1141.2 1718.3,1147.8 1719.9,1143.6 1721.7,1143.9 1723.3,1147.8 1725.3,1144.2 1727.0,1151.4 1728.4,1148.9 1729.9,1146.2 1731.4,1150.7 1733.5,1146.1 1735.5,1149.6 1737.6,1146.0 1739.7,1146.4 1741.7,1146.4 1743.8,1151.7 1745.4,1146.9 1747.5,1148.8 1749.7,1147.0 1751.6,1145.0 1753.9,1149.6 1755.7,1149.0 1757.8,1145.0"/>
<polyline fill="none" stroke="#1ee81e" stroke-width="6.3" stroke-linejoin="round" stroke-linecap="butt" points="905.0,718.5 906.5,738.6 907.8,697.8 909.1,708.9 910.1,679.0 911.5,690.6 913.0,654.1 913.9,656.3 914.8,636.2 915.7,640.3 917.1,612.8 918.3,614.5 919.4,611.6 920.8,581.8 921.8,587.9 923.2,566.5 924.3,558.7 925.2,591.8 926.4,582.6 927.3,547.5 928.3,576.6 929.8,549.3 930.8,564.6 932.3,527.5 933.4,573.6 934.3,538.4 935.5,565.8 937.0,532.8 938.5,572.2 940.0,535.3 941.5,563.2 942.9,520.1 943.8,567.3 944.8,515.8 946.0,516.2 947.2,523.8 948.2,506.8 949.2,556.4 950.7,491.4 952.2,525.6 953.1,481.3 954.1,512.2 955.6,489.0 956.5,513.4 957.5,484.5 958.8,527.5 959.8,493.9 961.0,513.6 962.1,488.2 963.2,468.2 964.5,519.3 965.4,494.4 966.9,534.4 967.8,488.1 969.1,538.5 970.0,483.9 971.5,525.8 972.9,519.7 974.3,531.8 975.4,484.5 976.7,524.2 977.9,505.9 979.2,492.7 980.6,537.4 981.8,496.3 982.7,519.2 984.0,502.9 985.4,526.1 986.9,512.0 987.9,522.5 988.9,526.3 990.0,523.0 991.4,505.6 992.8,502.6 993.9,518.8 994.8,504.2 996.3,526.4 997.3,509.2 998.4,527.8 999.6,514.1 1001.1,515.2 1002.0,541.2 1002.9,516.9 1003.9,535.6 1004.9,525.4 1006.3,542.1 1007.2,520.0 1008.5,558.9 1010.0,536.8 1011.2,562.6 1012.4,551.2 1013.4,583.1 1014.6,552.3 1015.7,601.7 1016.6,609.0 1017.6,579.5 1019.1,631.9 1020.5,594.2 1021.7,636.1 1023.1,607.6 1024.4,654.3 1026.0,650.2 1027.4,604.5 1028.8,634.5 1030.0,585.3 1031.2,638.2 1032.1,589.7 1033.2,611.6 1034.1,573.6 1035.5,635.0 1036.7,613.0 1037.7,574.0 1039.1,609.2 1040.5,550.5 1041.7,601.9 1042.7,597.8 1043.9,528.9 1045.1,567.8 1046.0,556.0 1047.1,497.4 1048.3,524.7 1049.5,471.5 1051.0,504.3 1051.9,450.5 1053.4,492.0 1054.4,446.8 1055.3,490.2 1056.3,461.2 1057.4,515.0 1058.3,483.2 1059.5,512.4 1060.7,480.2 1061.9,509.3 1062.9,471.2 1064.1,470.8 1065.5,518.4 1067.0,506.3 1068.0,502.0 1069.6,493.3 1070.6,463.7 1071.5,481.7 1072.9,446.3 1074.3,455.2 1075.6,459.2 1076.5,415.1 1077.7,434.0 1078.6,411.1 1079.8,423.3 1080.8,390.3 1082.2,370.6 1083.1,409.4 1084.3,368.0 1085.5,391.0 1086.8,358.4 1088.2,405.3 1089.6,374.5 1090.5,405.3 1092.0,365.9 1093.5,416.2 1094.8,359.1 1096.2,424.8 1097.5,354.7 1098.7,347.6 1100.0,402.1 1101.2,353.5 1102.2,363.9 1103.3,330.9 1104.3,326.4 1105.4,359.0 1106.6,317.6 1108.0,358.8 1109.5,322.3 1110.9,344.0 1111.7,322.2 1112.7,344.9 1113.9,302.9 1115.1,300.9 1116.6,322.6 1118.0,273.7 1118.9,298.5 1120.1,275.8 1121.6,292.3 1122.9,268.0 1124.2,298.3 1125.6,278.4 1126.6,304.6 1128.0,263.6 1129.3,325.9 1130.9,263.3 1132.0,325.0 1133.0,262.7 1134.4,322.4 1135.8,275.1 1137.1,298.1 1138.0,265.2 1139.1,283.8 1140.2,243.9 1141.6,281.8 1143.1,232.3 1144.0,220.7 1145.3,257.1 1146.6,226.0 1147.9,257.5 1149.0,268.1 1150.4,232.1 1151.5,255.8 1152.4,231.2 1153.3,255.2 1154.6,230.5 1155.6,255.9 1157.0,232.7 1158.4,245.2 1159.4,215.2 1160.8,224.5 1162.4,192.1 1163.8,182.4 1164.9,195.8 1165.8,165.3 1167.0,173.2 1168.4,143.5 1169.7,153.1 1171.0,124.5 1172.0,147.4 1173.1,115.9 1174.3,111.9 1175.8,146.1 1176.9,118.1 1178.4,121.8 1179.5,147.1 1180.6,128.0 1181.9,158.2 1183.3,141.3 1184.7,141.1 1185.6,160.8 1186.8,161.8 1188.2,130.1 1189.6,147.5 1191.0,143.2 1192.3,119.2 1193.6,140.3 1195.0,113.4 1196.1,145.7 1197.5,109.6 1198.8,141.9 1200.0,96.7 1201.4,140.0 1202.9,137.5 1204.1,93.7 1205.2,135.8 1206.6,149.0 1207.6,106.0 1208.6,116.8 1209.7,157.0 1211.1,117.2 1212.3,168.0 1213.1,117.2 1214.1,162.9 1215.4,126.3 1216.4,168.6 1217.5,111.2 1218.7,163.5 1220.2,111.7 1221.7,132.2 1222.6,138.7 1223.7,106.2 1224.7,105.5 1225.8,139.7 1226.9,113.6 1228.1,135.0 1229.2,107.5 1230.4,138.9 1231.5,109.8 1232.8,134.2 1234.3,111.4 1235.3,124.8 1236.5,99.7 1237.8,106.9 1239.2,132.5 1240.1,104.9 1241.3,116.9 1242.8,97.8 1243.7,116.8 1245.0,87.9 1245.9,110.8 1247.5,81.3 1248.3,107.6 1249.3,79.6 1250.2,74.6 1251.2,94.0 1252.3,76.2 1253.4,91.5 1254.4,71.0 1255.5,73.3 1256.8,93.5 1257.7,81.1 1259.1,91.3 1260.2,83.4 1261.1,95.2 1262.0,91.5 1263.5,107.6 1264.8,90.3 1265.9,112.1 1266.8,93.1 1268.3,116.2 1269.6,91.4 1270.7,110.0 1271.8,83.4 1273.3,117.4 1274.6,129.0 1275.7,104.2 1277.1,100.1 1278.4,133.1 1280.0,110.6 1280.9,146.1 1282.2,100.4 1283.3,145.7 1284.8,123.8 1286.1,162.5 1287.1,171.1 1288.5,142.3 1290.0,165.8 1291.0,140.4 1292.0,164.1 1292.8,146.2 1294.3,182.0 1295.7,168.8 1296.9,192.2 1297.9,181.1"/>
<rect x="267.5" y="54" width="3" height="1228" fill="#000"/>
<rect x="243.5" y="54" width="1517.5" height="6" fill="#000"/>
<rect x="1761" y="57" width="3" height="1223" fill="#404040"/>
<rect x="1758" y="54" width="3" height="1228" fill="#000"/>
<rect x="257" y="1252" width="1501" height="3" fill="#888"/>
<rect x="254" y="1255" width="1507" height="2.6" fill="#000"/>
<rect x="243.5" y="1144.4" width="25" height="5.4" fill="#000"/>
<rect x="243.5" y="926.4" width="25" height="5.4" fill="#000"/>
<rect x="243.5" y="708.4" width="25" height="5.4" fill="#000"/>
<rect x="243.5" y="490.4" width="25" height="5.4" fill="#000"/>
<rect x="243.5" y="272.4" width="25" height="5.4" fill="#000"/>
<rect x="254.3" y="1253.2" width="14" height="5.6" fill="#000"/>
<rect x="254.3" y="1035.2" width="14" height="5.6" fill="#000"/>
<rect x="254.3" y="817.2" width="14" height="5.6" fill="#000"/>
<rect x="254.3" y="599.2" width="14" height="5.6" fill="#000"/>
<rect x="254.3" y="381.2" width="14" height="5.6" fill="#000"/>
<rect x="254.3" y="163.2" width="14" height="5.6" fill="#000"/>
<rect x="266.9" y="1256" width="3" height="25.8" fill="#000"/>
<rect x="568.3" y="1256" width="3" height="23" fill="#999"/>
<rect x="565.3" y="1256" width="3" height="25.8" fill="#000"/>
<rect x="866.7" y="1256" width="3" height="23" fill="#999"/>
<rect x="863.7" y="1256" width="3" height="25.8" fill="#000"/>
<rect x="1165.1" y="1256" width="3" height="23" fill="#999"/>
<rect x="1162.1" y="1256" width="3" height="25.8" fill="#000"/>
<rect x="1463.5" y="1256" width="3" height="23" fill="#999"/>
<rect x="1460.5" y="1256" width="3" height="25.8" fill="#000"/>
<rect x="1759.0" y="1256" width="3" height="25.8" fill="#000"/>
<rect x="416.1" y="1256" width="3.6" height="14" fill="#000"/>
<rect x="714.5" y="1256" width="3.6" height="14" fill="#000"/>
<rect x="1012.9" y="1256" width="3.6" height="14" fill="#000"/>
<rect x="1311.3" y="1256" width="3.6" height="14" fill="#000"/>
<rect x="1609.7" y="1256" width="3.6" height="14" fill="#000"/>
<text x="228.5" y="1165.3" text-anchor="end" font-size="74.5" class="t1">0</text>
<text x="228.5" y="947.3" text-anchor="end" font-size="74.5" class="t1">1</text>
<text x="228.5" y="729.3" text-anchor="end" font-size="74.5" class="t1">2</text>
<text x="228.5" y="511.3" text-anchor="end" font-size="74.5" class="t1">3</text>
<text x="228.5" y="293.3" text-anchor="end" font-size="74.5" class="t1">4</text>
<text x="228.5" y="75.3" text-anchor="end" font-size="74.5" class="t1">5</text>
<text x="268.5" y="1352.5" text-anchor="middle" font-size="74.5" class="t1">0</text>
<text x="566.9" y="1352.5" text-anchor="middle" font-size="74.5" class="t1">3</text>
<text x="865.3" y="1352.5" text-anchor="middle" font-size="74.5" class="t1">6</text>
<text x="1163.7" y="1352.5" text-anchor="middle" font-size="74.5" class="t1">9</text>
<text x="1462.1" y="1352.5" text-anchor="middle" font-size="74.5" class="t1">12</text>
<text x="1760.5" y="1352.5" text-anchor="middle" font-size="74.5" class="t1">15</text>
<text transform="translate(95,954.4) rotate(-90)" font-size="91" x="-6" class="t2">Intensity (a.u)</text>
<text x="1015.5" y="1500" text-anchor="middle" font-size="91" class="t2">t (μs)</text>
<text x="385.4" y="180" font-size="68" class="t1">Pulse duration</text>
<rect x="382" y="247.5" width="158.5" height="6" fill="#000"/>
<text x="722" y="272.8" text-anchor="end" font-size="69.5" class="t1">3 μs</text>
<rect x="382" y="338.1" width="158.5" height="5.4" fill="#a52424"/>
<text x="722" y="363.1" text-anchor="end" font-size="69.5" class="t1">5 μs</text>
<rect x="382" y="430.5" width="158.5" height="5.4" fill="#5c1458"/>
<text x="722" y="455.5" text-anchor="end" font-size="69.5" class="t1">7 μs</text>
<rect x="382" y="521.2" width="158.5" height="7" fill="#2ee02e"/>
<text x="722" y="547.0" text-anchor="end" font-size="69.5" class="t1">10 μs</text></svg></body></html>
